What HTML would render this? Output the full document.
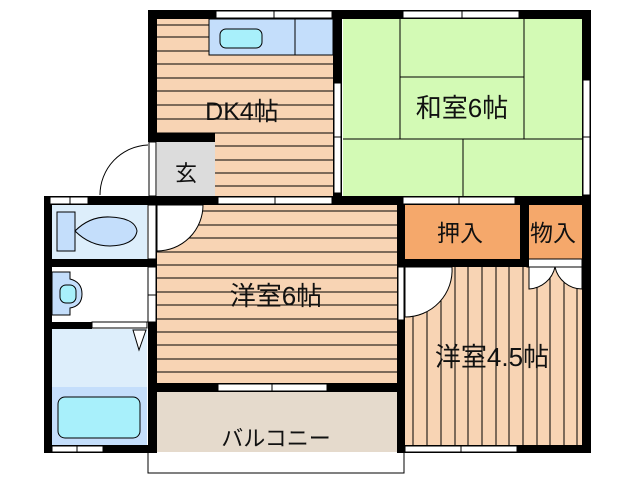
<!DOCTYPE html>
<html><head><meta charset="utf-8"><style>
html,body{margin:0;padding:0;background:#fff;width:638px;height:480px;overflow:hidden}
svg{display:block}
text{font-family:"Liberation Sans","Noto Sans CJK JP",sans-serif;fill:#111}
</style></head><body>
<svg width="638" height="480" viewBox="0 0 638 480" xmlns="http://www.w3.org/2000/svg">
<rect x="157" y="19" width="176" height="177" fill="#f8d4b4"/>
<rect x="157" y="142" width="58" height="54" fill="#dcdcdc"/>
<rect x="343" y="19" width="239" height="177" fill="#d3fab5"/>
<rect x="405" y="205" width="115" height="54" fill="#f5a86b"/>
<rect x="529" y="205" width="53" height="54" fill="#f5a86b"/>
<rect x="157" y="205" width="240" height="178" fill="#f8d4b4"/>
<rect x="405" y="267" width="177" height="178" fill="#f8d4b4"/>
<rect x="157" y="392" width="240" height="60" fill="#e5dacc"/>
<rect x="52" y="205" width="95" height="54" fill="#ddeefb"/>
<rect x="52" y="267" width="95" height="55" fill="#fff"/>
<rect x="52" y="329" width="95" height="58" fill="#ddeefb"/>
<rect x="52" y="387" width="95" height="58" fill="#c4defb"/>
<g stroke="#000" stroke-width="1">
<line x1="157" y1="25" x2="209" y2="25"/><line x1="157" y1="37" x2="209" y2="37"/><line x1="157" y1="51" x2="209" y2="51"/>
<line x1="157" y1="64" x2="333" y2="64"/><line x1="157" y1="78" x2="333" y2="78"/><line x1="157" y1="91" x2="333" y2="91"/>
<line x1="157" y1="105" x2="333" y2="105"/><line x1="157" y1="119" x2="333" y2="119"/><line x1="157" y1="133" x2="333" y2="133"/>
<line x1="215" y1="146" x2="333" y2="146"/><line x1="215" y1="160" x2="333" y2="160"/><line x1="215" y1="173" x2="333" y2="173"/><line x1="215" y1="186" x2="333" y2="186"/>
</g>
<rect x="209" y="19" width="124" height="36" fill="#c4defb" stroke="#000"/>
<line x1="295" y1="19" x2="295" y2="55" stroke="#000"/>
<rect x="220" y="29" width="42" height="19" rx="6" fill="#a8f0fb" stroke="#000"/>
<g stroke="#000" stroke-width="1">
<line x1="400" y1="19" x2="400" y2="139"/><line x1="524" y1="19" x2="524" y2="139"/>
<line x1="400" y1="77" x2="524" y2="77"/><line x1="343" y1="139" x2="582" y2="139"/>
<line x1="463" y1="139" x2="463" y2="196"/>
</g>
<g stroke="#000" stroke-width="1">
<line x1="157" y1="211" x2="397" y2="211"/><line x1="157" y1="225" x2="397" y2="225"/><line x1="157" y1="238" x2="397" y2="238"/>
<line x1="157" y1="252" x2="397" y2="252"/><line x1="157" y1="265" x2="397" y2="265"/><line x1="157" y1="278" x2="397" y2="278"/>
<line x1="157" y1="292" x2="397" y2="292"/><line x1="157" y1="305" x2="397" y2="305"/><line x1="157" y1="319" x2="397" y2="319"/>
<line x1="157" y1="332" x2="397" y2="332"/><line x1="157" y1="345" x2="397" y2="345"/><line x1="157" y1="359" x2="397" y2="359"/><line x1="157" y1="372" x2="397" y2="372"/>
</g>
<g stroke="#000" stroke-width="1">
<line x1="413" y1="267" x2="413" y2="445"/><line x1="427" y1="267" x2="427" y2="445"/><line x1="441" y1="267" x2="441" y2="445"/>
<line x1="455" y1="267" x2="455" y2="445"/><line x1="468" y1="267" x2="468" y2="445"/><line x1="482" y1="267" x2="482" y2="445"/>
<line x1="496" y1="267" x2="496" y2="445"/><line x1="509" y1="267" x2="509" y2="445"/><line x1="523" y1="267" x2="523" y2="445"/>
<line x1="537" y1="267" x2="537" y2="445"/><line x1="550" y1="267" x2="550" y2="445"/><line x1="564" y1="267" x2="564" y2="445"/><line x1="577" y1="267" x2="577" y2="445"/>
</g>
<path d="M405 267 L452 267 A47 47 0 0 1 405 317 Z" fill="#fff" stroke="#000"/>
<path d="M555 267 L529 267 L529 289 A28 28 0 0 0 555 267 Z" fill="#fff" stroke="#000"/>
<path d="M555 267 L582 267 L582 289 A28 28 0 0 1 555 267 Z" fill="#fff" stroke="#000"/>
<rect x="527" y="259" width="55" height="8" fill="#fff" stroke="#000"/>
<path d="M157 205 L203 205 A46 46 0 0 1 157 251 Z" fill="#fff" stroke="#000"/>
<path d="M148 145 A50 50 0 0 0 100 195" fill="none" stroke="#000"/>
<g fill="#000">
<rect x="148" y="10" width="443" height="9"/>
<rect x="148" y="10" width="9" height="132"/>
<rect x="148" y="133" width="67" height="9"/>
<rect x="333" y="10" width="9" height="195"/>
<rect x="582" y="10" width="9" height="443"/>
<rect x="44" y="196" width="547" height="9"/>
<rect x="44" y="196" width="8" height="257"/>
<rect x="44" y="259" width="113" height="8"/>
<rect x="44" y="322" width="48" height="7"/>
<rect x="148" y="205" width="9" height="248"/>
<rect x="397" y="205" width="8" height="248"/>
<rect x="520" y="205" width="9" height="62"/>
<rect x="397" y="259" width="130" height="8"/>
<rect x="148" y="383" width="257" height="9"/>
<rect x="44" y="445" width="113" height="8"/>
<rect x="397" y="445" width="194" height="8"/>
</g>
<g fill="#fff" stroke="#000" stroke-width="1">
<rect x="216" y="11" width="116" height="7"/>
<rect x="403" y="11" width="116" height="7"/>
<rect x="334" y="83" width="7" height="110"/>
<rect x="583" y="80" width="7" height="115"/>
<rect x="218" y="197" width="114" height="7"/>
<rect x="403" y="197" width="112" height="7"/>
<rect x="149" y="142" width="7" height="54"/>
<rect x="50" y="197" width="38" height="7"/>
<rect x="148" y="205" width="8" height="54"/>
<rect x="148" y="267" width="8" height="55"/>
<rect x="92" y="322" width="55" height="6"/>
<rect x="218" y="384" width="109" height="7"/>
<rect x="52" y="446" width="51" height="6"/>
<rect x="405" y="446" width="112" height="6"/>
<rect x="398" y="267" width="6" height="53"/>
</g>
<g stroke="#000">
<line x1="274" y1="11" x2="274" y2="18"/><line x1="462" y1="11" x2="462" y2="18"/>
<line x1="334" y1="137" x2="341" y2="137"/><line x1="583" y1="137" x2="590" y2="137"/>
<line x1="275" y1="197" x2="275" y2="204"/><line x1="459" y1="197" x2="459" y2="204"/>
<line x1="272" y1="384" x2="272" y2="391"/><line x1="77" y1="446" x2="77" y2="452"/><line x1="461" y1="446" x2="461" y2="452"/>
<line x1="70" y1="197" x2="70" y2="204"/><line x1="148" y1="295" x2="156" y2="295"/>
</g>
<path d="M148 453 L148 473 L404 473 L404 453" fill="none" stroke="#000"/>
<rect x="57" y="212" width="18" height="39" fill="#c4defb" stroke="#000"/>
<path d="M75 231 Q90 216 110 217 Q135 218 137 231 Q135 245 110 246 Q90 246 75 231 Z" fill="#c4defb" stroke="#000"/>
<path d="M52 272 L70 272 L70 279 Q82 282 82 294 Q82 306 70 308 L70 315 L52 315 Z" fill="#c4defb" stroke="#000"/>
<rect x="60" y="285" width="16" height="18" rx="6" fill="#a8f0fb" stroke="#000"/>
<path d="M133 330 L146 330 L139 350 Z" fill="#fff" stroke="#000"/>
<rect x="58" y="397" width="82" height="41" rx="7" fill="#a8f0fb" stroke="#000"/>
<text x="242" y="120" font-size="25" text-anchor="middle">DK4帖</text>
<text x="186" y="181" font-size="22" text-anchor="middle">玄</text>
<text x="462" y="117" font-size="26" text-anchor="middle">和室6帖</text>
<text x="460" y="241" font-size="23" text-anchor="middle">押入</text>
<text x="553" y="241" font-size="23" text-anchor="middle">物入</text>
<text x="276" y="305" font-size="26" text-anchor="middle">洋室6帖</text>
<text x="492" y="366" font-size="26" text-anchor="middle">洋室4.5帖</text>
<text x="276" y="446" font-size="22" text-anchor="middle">バルコニー</text>
</svg>
</body></html>
